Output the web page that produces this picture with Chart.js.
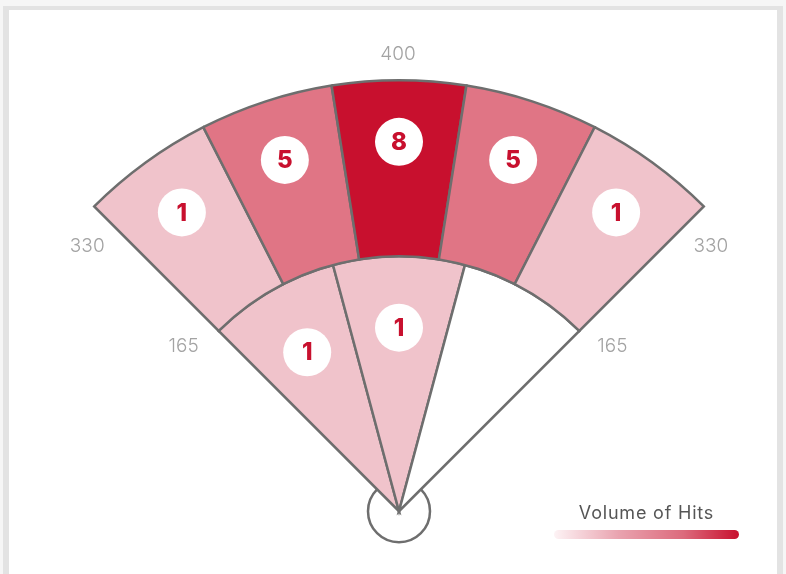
<!DOCTYPE html>
<html>
<head>
<meta charset="utf-8">
<script src="https://cdn.jsdelivr.net/npm/chart.js@4.4.1/dist/chart.umd.min.js"></script>
<style>
  html, body { margin: 0; padding: 0; background: #f6f6f6; overflow: hidden; }
  #card {
    position: absolute; left: 3px; top: 6px; width: 780px; height: 600px;
    box-sizing: border-box; background: #fff;
    border: 6px solid #e3e3e3; border-top-width: 4px;
  }
  #sprayChart { position: absolute; left: 0; top: 0; }
  #legend { position: absolute; left: 554px; top: 501px; width: 185px; text-align: center; }
  #legend .title { font-family: Inter, "Open Sans", sans-serif; font-size: 18px; letter-spacing: 0.8px; color: #555; line-height: 24px; }
  #legend .bar {
    margin-top: 5px; height: 9px; border-radius: 5px;
    background: linear-gradient(to right, #fdf3f5, #e9a3af 35%, #dc6a7c 70%, #c8102e);
  }
</style>
</head>
<body>
<div id="card"></div>
<canvas id="sprayChart" width="786" height="574"></canvas>
<div id="legend">
  <div class="title">Volume of Hits</div>
  <div class="bar"></div>
</div>
<script>
// outfield zones, left to right
const outfieldZones = ['LF', 'LCF', 'CF', 'RCF', 'RF'];
const outfieldHits = [1, 5, 8, 5, 1];

// infield zones, left to right
const infieldZones = ['3B', 'Middle', '1B'];
const infieldHits = [1, 1, 0];

// distance markers (ft)
const centerDistance = '400';
const lineDistance = '330';
const infieldDistance = '165';

const RED = '#c8102e';
const LINE = '#6e6e6e';

// colour by hit count
function hitColor(n) {
  if (n <= 0) return '#ffffff';
  if (n >= 8) return '#c8102e';
  if (n >= 5) return '#e07585';
  return '#f0c3cb';
}

const fieldPlugin = {
  id: 'field',
  beforeDatasetsDraw(chart) {
    const arc = chart.getDatasetMeta(1).data[0];
    const c = chart.ctx;
    // home plate circle
    c.save();
    c.beginPath();
    c.arc(arc.x, arc.y, 31, 0, Math.PI * 2);
    c.fillStyle = '#fff';
    c.fill();
    c.lineWidth = 2.5;
    c.strokeStyle = LINE;
    c.stroke();
    c.restore();
  },
  afterDatasetsDraw(chart) {
    const c = chart.ctx;
    c.save();

    // badges
    const drawBadges = (meta, hits, f) => {
      meta.data.forEach((arc, i) => {
        if (!hits[i]) return;
        const a = (arc.startAngle + arc.endAngle) / 2;
        const r = arc.innerRadius + f * (arc.outerRadius - arc.innerRadius);
        const bx = arc.x + Math.cos(a) * r;
        const by = arc.y + Math.sin(a) * r;
        c.beginPath();
        c.arc(bx, by, 24, 0, Math.PI * 2);
        c.fillStyle = '#fff';
        c.fill();
        c.fillStyle = RED;
        c.font = '800 24px Inter, "Open Sans", sans-serif';
        c.textAlign = 'center';
        c.textBaseline = 'middle';
        c.fillText(String(hits[i]), bx, by + 1);
      });
    };
    drawBadges(chart.getDatasetMeta(0), outfieldHits, 0.65);
    drawBadges(chart.getDatasetMeta(1), infieldHits, 0.72);

    // distance labels
    const outer = chart.getDatasetMeta(0).data[0];
    const inner = chart.getDatasetMeta(1).data[0];
    const cx = outer.x, cy = outer.y;
    const R = outer.outerRadius, r = inner.outerRadius;
    const k = Math.SQRT1_2;
    c.fillStyle = '#a3a3a3';
    c.font = '300 19px Inter, "Open Sans", sans-serif';
    c.textAlign = 'center';
    c.textBaseline = 'middle';
    c.fillText(centerDistance, cx - 1, cy - R - 26);
    c.fillText(lineDistance, cx - R * k - 7, cy - R * k + 40);
    c.fillText(lineDistance, cx + R * k + 7, cy - R * k + 40);
    c.fillText(infieldDistance, cx - r * k - 35, cy - r * k + 15);
    c.fillText(infieldDistance, cx + r * k + 33, cy - r * k + 15);
    c.restore();
  }
};

const ctx = document.getElementById('sprayChart').getContext('2d');

const chart = new Chart(ctx, {
  type: 'doughnut',
  data: {
    labels: outfieldZones,
    datasets: [
      {
        label: 'Outfield',
        data: outfieldZones.map(() => 1),
        backgroundColor: outfieldHits.map(hitColor),
        borderColor: LINE,
        borderWidth: 2.5,
        borderJoinStyle: 'miter',
        weight: 176
      },
      {
        label: 'Infield',
        data: infieldZones.map(() => 1),
        backgroundColor: infieldHits.map(hitColor),
        borderColor: LINE,
        borderWidth: 2.5,
        borderJoinStyle: 'miter',
        weight: 255
      }
    ]
  },
  options: {
    responsive: false,
    animation: false,
    cutout: 0,
    rotation: -45,
    circumference: 90,
    layout: {
      padding: { top: 79, bottom: 61.5, left: 90, right: 78 }
    },
    plugins: {
      legend: { display: false },
      tooltip: { enabled: false }
    }
  },
  plugins: [fieldPlugin]
});
</script>
</body>
</html>
